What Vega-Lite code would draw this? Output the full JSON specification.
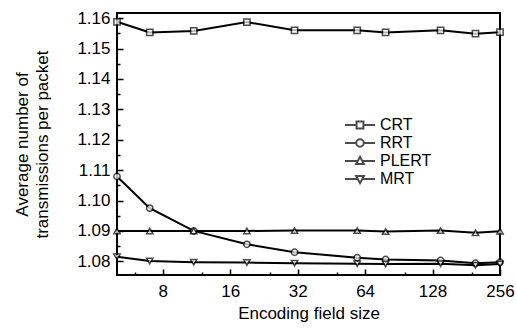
{
  "$schema": "https://vega.github.io/schema/vega-lite/v6.json",
  "autosize": {"type": "none"},
  "width": 383,
  "height": 262,
  "padding": {"left": 117, "top": 13, "right": 16, "bottom": 54},
  "background": "white",
  "config": {
    "font": "Liberation Sans",
    "view": {"stroke": "black", "strokeWidth": 2},
    "axis": {"grid": false, "domain": false, "tickColor": "black", "tickWidth": 1.5, "labelColor": "black", "titleColor": "black", "labelFont": "Liberation Sans", "titleFont": "Liberation Sans", "labelFontSize": 17, "titleFontSize": 17, "titleFontWeight": "normal"},
    "legend": {"labelFont": "Liberation Sans", "labelFontSize": 16, "labelColor": "black", "orient": "none", "padding": 0, "clipHeight": 16, "rowPadding": 2}
  },
  "data": {"values": [
    {"x": 5, "y": 1.1588, "s": "CRT"}, {"x": 7, "y": 1.1553, "s": "CRT"}, {"x": 11, "y": 1.1558, "s": "CRT"}, {"x": 19, "y": 1.1587, "s": "CRT"}, {"x": 31, "y": 1.1560, "s": "CRT"}, {"x": 59, "y": 1.1560, "s": "CRT"}, {"x": 79, "y": 1.1553, "s": "CRT"}, {"x": 139, "y": 1.1560, "s": "CRT"}, {"x": 199, "y": 1.1549, "s": "CRT"}, {"x": 256, "y": 1.1554, "s": "CRT"},
    {"x": 5, "y": 1.1079, "s": "RRT"}, {"x": 7, "y": 1.0975, "s": "RRT"}, {"x": 11, "y": 1.0900, "s": "RRT"}, {"x": 19, "y": 1.0856, "s": "RRT"}, {"x": 31, "y": 1.0830, "s": "RRT"}, {"x": 59, "y": 1.0812, "s": "RRT"}, {"x": 79, "y": 1.0806, "s": "RRT"}, {"x": 139, "y": 1.0803, "s": "RRT"}, {"x": 199, "y": 1.0794, "s": "RRT"}, {"x": 256, "y": 1.0797, "s": "RRT"},
    {"x": 5, "y": 1.0900, "s": "PLERT"}, {"x": 7, "y": 1.0900, "s": "PLERT"}, {"x": 11, "y": 1.0900, "s": "PLERT"}, {"x": 19, "y": 1.0900, "s": "PLERT"}, {"x": 31, "y": 1.0901, "s": "PLERT"}, {"x": 59, "y": 1.0901, "s": "PLERT"}, {"x": 79, "y": 1.0898, "s": "PLERT"}, {"x": 139, "y": 1.0901, "s": "PLERT"}, {"x": 199, "y": 1.0894, "s": "PLERT"}, {"x": 256, "y": 1.0899, "s": "PLERT"},
    {"x": 5, "y": 1.0815, "s": "MRT"}, {"x": 7, "y": 1.0801, "s": "MRT"}, {"x": 11, "y": 1.0797, "s": "MRT"}, {"x": 19, "y": 1.0796, "s": "MRT"}, {"x": 31, "y": 1.0794, "s": "MRT"}, {"x": 59, "y": 1.0792, "s": "MRT"}, {"x": 79, "y": 1.0791, "s": "MRT"}, {"x": 139, "y": 1.0792, "s": "MRT"}, {"x": 199, "y": 1.0787, "s": "MRT"}, {"x": 256, "y": 1.0791, "s": "MRT"}
  ]},
  "encoding": {
    "x": {"field": "x", "type": "quantitative",
      "scale": {"type": "log", "base": 2, "domain": [5, 256], "nice": false, "zero": false},
      "axis": {"title": "Encoding field size", "values": [6, 8, 12, 16, 24, 32, 48, 64, 96, 128, 192, 256],
        "labelExpr": "indexof([8,16,32,64,128,256], datum.value) >= 0 ? datum.value : ''",
        "tickSize": {"condition": {"test": "indexof([8,16,32,64,128,256], datum.value) >= 0", "value": -6}, "value": -3},
        "labelPadding": 14, "labelFlush": false, "labelOverlap": false, "titlePadding": 3}},
    "y": {"field": "y", "type": "quantitative",
      "scale": {"domain": [1.0755, 1.1617], "nice": false, "zero": false},
      "axis": {"title": ["Average number of", "transmissions per packet"],
        "values": [1.08, 1.085, 1.09, 1.095, 1.1, 1.105, 1.11, 1.115, 1.12, 1.125, 1.13, 1.135, 1.14, 1.145, 1.15, 1.155, 1.16],
        "labelExpr": "abs(datum.value*100 - round(datum.value*100)) < 0.01 ? format(datum.value, '.2f') : ''",
        "tickSize": {"condition": {"test": "abs(datum.value*100 - round(datum.value*100)) < 0.01", "value": -6}, "value": -3},
        "labelPadding": 13, "labelOverlap": false,
        "titleAngle": -90, "titleAlign": "center", "titleBaseline": "alphabetic", "titleX": -90, "titleY": 131, "titleLineHeight": 20}}
  },
  "layer": [
    {"mark": {"type": "line", "strokeWidth": 2, "color": "black"}, "encoding": {"detail": {"field": "s"}}},
    {"transform": [{"filter": "datum.s == 'CRT'"}], "mark": {"type": "point", "shape": "square", "filled": true, "fill": "white", "stroke": "black", "strokeWidth": 1.5, "size": 40}},
    {"transform": [{"filter": "datum.s == 'RRT'"}], "mark": {"type": "point", "shape": "circle", "filled": true, "fill": "white", "stroke": "black", "strokeWidth": 1.5, "size": 40}},
    {"transform": [{"filter": "datum.s == 'PLERT'"}], "mark": {"type": "point", "shape": "triangle-up", "filled": true, "fill": "white", "stroke": "black", "strokeWidth": 1.5, "size": 40}},
    {"transform": [{"filter": "datum.s == 'MRT'"}], "mark": {"type": "point", "shape": "triangle-down", "filled": true, "fill": "white", "stroke": "black", "strokeWidth": 1.5, "size": 40}},
    {"transform": [{"filter": "datum.x < 0"}],
      "mark": {"type": "point", "filled": true, "fill": "white", "strokeWidth": 2},
      "encoding": {
        "shape": {"field": "s", "type": "nominal",
          "scale": {"domain": ["CRT", "RRT", "PLERT", "MRT"], "range": [
            "M-1,0H-0.23M0.23,0H1M-0.23,-0.23H0.23V0.23H-0.23Z",
            "M-1,0H-0.25M0.25,0H1M-0.25,0A0.25,0.25,0,1,0,0.25,0A0.25,0.25,0,1,0,-0.25,0Z",
            "M-1,0H-0.15M0.15,0H1M0,-0.28L0.26,0.2L-0.26,0.2Z",
            "M-1,0H-0.15M0.15,0H1M0,0.28L0.26,-0.2L-0.26,-0.2Z"]},
          "legend": {"title": null, "legendX": 227, "legendY": 104, "symbolSize": 900, "symbolStrokeWidth": 2, "symbolFillColor": "white", "symbolStrokeColor": "black", "labelOffset": 4}},
        "stroke": {"field": "s", "type": "nominal",
          "scale": {"domain": ["CRT", "RRT", "PLERT", "MRT"], "range": ["black", "black", "black", "black"]},
          "legend": {"title": null, "legendX": 227, "legendY": 104, "symbolSize": 900, "symbolStrokeWidth": 2, "symbolFillColor": "white", "symbolStrokeColor": "black", "labelOffset": 4}}
      }}
  ]
}
